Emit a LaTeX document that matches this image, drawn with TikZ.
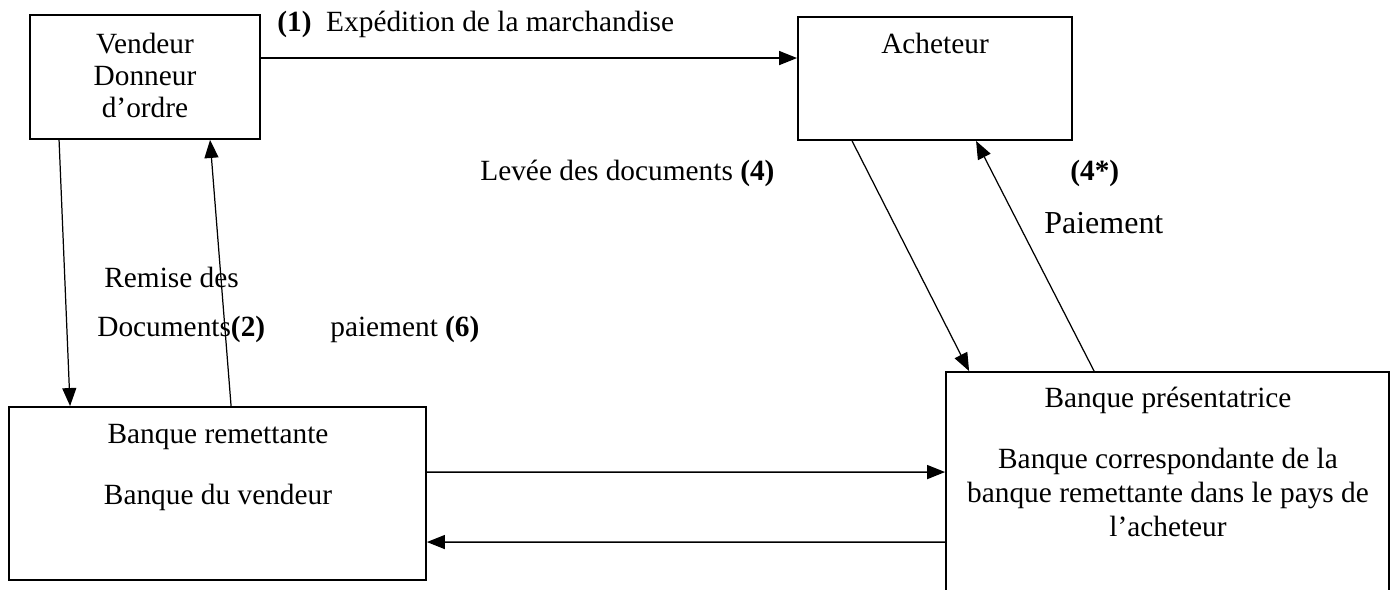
\documentclass[tikz,border=0pt]{standalone}
\usepackage{fontspec}
\setmainfont{Liberation Serif}
\usepackage{xcolor}
\definecolor{cLine}{HTML}{000000}
\usepackage{tikz}
\usetikzlibrary{positioning,arrows.meta,calc}
\tikzset{
  node-box/.style={draw=cLine,line width=1.1pt,rectangle,inner sep=0pt},
  node-text/.style={inner sep=0pt,align=center,
    font=\fontsize{16.7}{18.4}\selectfont},
  node-text-wide/.style={node-text,font=\fontsize{16.7}{19.3}\selectfont},
  arrow/.style={-{Triangle[length=3.6mm,width=2.8mm]},line width=0.9pt,draw=cLine},
  arrow-thin/.style={arrow,line width=0.7pt},
}
\begin{document}
\begin{tikzpicture}[x=0.02cm,y=-0.02cm]
  \useasboundingbox (0,0) rectangle (1391,590);
  % les quatre parties
  \node[node-box,minimum width=4.6cm,minimum height=2.48cm] (vendeur) at (145,77) {};
  \node[node-box,minimum width=5.48cm,minimum height=2.46cm] (acheteur) at (935,78.5) {};
  \node[node-box,minimum width=8.34cm,minimum height=3.46cm] (banque-rem) at (217.5,493.5) {};
  \node[node-box,minimum width=8.86cm,minimum height=4.8cm] (banque-pres) at (1167.5,492) {};

  \node[node-text,anchor=base] (vendeur-txt) at (145,118) {Vendeur\\Donneur\\d'ordre};
  \node[node-text,anchor=base] (acheteur-txt) at (935,54) {Acheteur};
  \node[node-text,anchor=base] (rem-nom) at (218,443) {Banque remettante};
  \node[node-text,anchor=base] (rem-desc) at (218,504) {Banque du vendeur};
  \node[node-text,anchor=base] (pres-nom) at (1168,408) {Banque présentatrice};
  \node[node-text-wide,anchor=base] (pres-desc) at (1168,536)
    {Banque correspondante de la\\banque remettante dans le pays de\\l'acheteur};

  % flux
  \draw[arrow] ($(vendeur.north east)+(0,44)$) -- ($(acheteur.north west)+(0,42)$);
  \draw[arrow-thin] ($(vendeur.south west)+(30,0)$) -- ($(banque-rem.north west)+(62,0)$);
  \draw[arrow-thin] ($(banque-rem.north west)+(223,0)$) -- ($(vendeur.south west)+(181,0)$);
  \draw[arrow] ($(banque-rem.north east)+(0,66)$) -- ($(banque-pres.north west)+(0,101)$);
  \draw[arrow] ($(banque-pres.north west)+(0,171)$) -- ($(banque-rem.north east)+(0,136)$);
  \draw[arrow-thin] ($(acheteur.south west)+(55,0)$) -- ($(banque-pres.north west)+(24,0)$);
  \draw[arrow-thin] ($(banque-pres.north west)+(149,0)$) -- ($(acheteur.south west)+(179,0)$);

  % etiquettes
  \node[node-text,anchor=base west] (lbl-exp) at (277,32) {\textbf{(1)}~~Expédition de la marchandise};
  \node[node-text,anchor=base west] (lbl-levee) at (480,181) {Levée des documents \textbf{(4)}};
  \node[node-text,anchor=base west] (lbl-4s) at (1070,181) {\textbf{(4*)}};
  \node[node-text,anchor=base west,font=\fontsize{18.2}{20}\selectfont] (lbl-paie) at (1044,234) {Paiement};
  \node[node-text,anchor=base west] (lbl-remise) at (104,288) {Remise des};
  \node[node-text,anchor=base west] (lbl-docs) at (97,337) {Documents\textbf{(2)}};
  \node[node-text,anchor=base west] (lbl-paie6) at (330,337) {paiement \textbf{(6)}};
\end{tikzpicture}
\end{document}
